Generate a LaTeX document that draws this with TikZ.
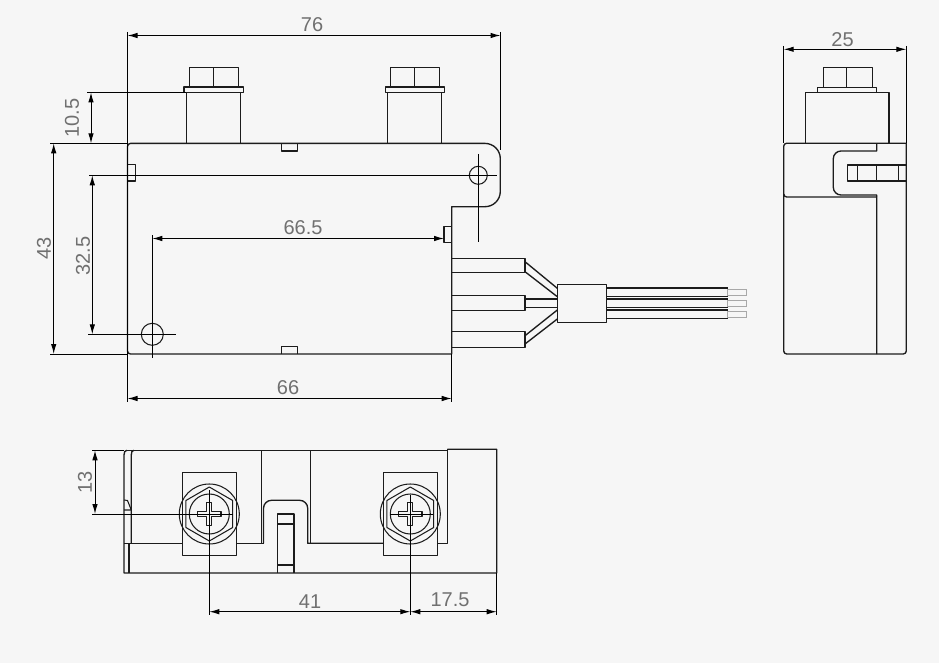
\documentclass[tikz,border=0pt]{standalone}
\usepackage{fontspec}
\setmainfont{Liberation Sans}
\usetikzlibrary{arrows.meta}
\definecolor{bgc}{HTML}{F6F6F6}
\definecolor{txtc}{HTML}{707070}
\definecolor{linec}{HTML}{1C1C1C}
\definecolor{tipc}{HTML}{A8A8A8}
\tikzset{
  part/.style={draw=linec,line width=1.35pt,line join=round},
  thin part/.style={draw=linec,line width=1.05pt,line join=round},
  tiplead/.style={draw=tipc,line width=.9pt},
  aux/.style={draw=black,line width=1pt},
  dimline/.style={draw=black,line width=1pt,{Latex[length=10pt,width=5.5pt]}-{Latex[length=10pt,width=5.5pt]}},
  dimtext/.style={text=txtc,font=\fontsize{20}{20}\selectfont,inner sep=0pt},
}
\newcommand{\screwhead}[1]{%
  \begin{scope}[shift={(#1,514)}]
    \draw[thin part] (0,0) circle (30);
    \draw[thin part] (0,0) circle (20);
    \draw[thin part] (0,-27) -- (23.4,-13.5) -- (23.4,13.5) -- (0,27) -- (-23.4,13.5) -- (-23.4,-13.5) -- cycle;
    \draw[thin part,fill=bgc] (-2.5,-11.7) -- (2.5,-11.7) -- (2.5,-2.5) -- (11.7,-2.5) -- (11.7,2.5) -- (2.5,2.5) -- (2.5,11.7) -- (-2.5,11.7) -- (-2.5,2.5) -- (-11.7,2.5) -- (-11.7,-2.5) -- (-2.5,-2.5) -- cycle;
  \end{scope}}
\begin{document}
\begin{tikzpicture}[x=1pt,y=-1pt]
\useasboundingbox[fill=bgc] (0,0) rectangle (939,663);

% ---------- top view: terminals
\draw[part] (186.5,143.4) -- (186.5,92.4) -- (240.5,92.4) -- (240.5,143.4);
\draw[thin part] (184,92.4) rectangle (243.3,87);
\draw[thin part] (189.7,87) rectangle (238.7,67.3);
\draw[thin part] (213.3,87) -- (213.3,67.3);
\draw[part] (387.3,143.4) -- (387.3,92.4) -- (441.3,92.4) -- (441.3,143.4);
\draw[thin part] (385.3,92.4) rectangle (444.7,87);
\draw[thin part] (390.3,87) rectangle (439.7,67.3);
\draw[thin part] (414.3,87) -- (414.3,67.3);

% ---------- top view: body
\draw[part] (130.5,143.4) -- (485,143.4) arc[start angle=-90,end angle=0,radius=15.3] -- (500.3,191.4) arc[start angle=0,end angle=90,radius=15.3] -- (451.7,206.7) -- (451.7,354) -- (130.5,354) arc[start angle=90,end angle=180,radius=3] -- (127.5,146.4) arc[start angle=180,end angle=270,radius=3] -- cycle;
\draw[part] (281.2,143.4) -- (281.2,151) -- (297.7,151) -- (297.7,143.4);
\draw[part] (281.2,354) -- (281.2,346.7) -- (297.7,346.7) -- (297.7,354);
\draw[part] (127.5,164.7) -- (135.3,164.7) -- (135.3,181) -- (127.5,181);
\draw[part] (451.7,226.7) -- (444,226.7) -- (444,242.7) -- (451.7,242.7);
\draw[thin part] (478.3,175.3) circle (9);
\draw[thin part] (152.3,334.3) circle (11);

% ---------- top view: cable
\draw[part] (451.7,258.7) -- (525,258.7) -- (525,272.3) -- (451.7,272.3);
\draw[part] (451.7,295.7) -- (525,295.7) -- (525,310.7) -- (451.7,310.7);
\draw[part] (451.7,331.3) -- (525,331.3) -- (525,347.3) -- (451.7,347.3);
\draw[part] (557.3,284.3) rectangle (606.7,322.3);
\draw[part] (525,261.7) -- (557.3,288.3);
\draw[part] (525,271.7) -- (557.3,296.7);
\draw[part] (525,299) -- (557.3,299);
\draw[part] (525,307.3) -- (557.3,307.3);
\draw[part] (525,335.7) -- (557.3,310);
\draw[part] (525,344) -- (557.3,319);
\foreach \a in {288,296.3,299,307.3,310,318.3}
  \draw[thin part] (606.7,\a) -- (727.7,\a);
\draw[thin part] (727.7,288) -- (727.7,296.3);
\draw[thin part] (727.7,299) -- (727.7,307.3);
\draw[thin part] (727.7,310) -- (727.7,318.3);
\draw[tiplead] (727.7,289.3) rectangle (746.7,295.7);
\draw[tiplead] (727.7,300.3) rectangle (746.7,306.3);
\draw[tiplead] (727.7,311.3) rectangle (746.7,317.3);

% ---------- top view: dimensions
\draw[aux] (127.5,32) -- (127.5,402);
\draw[aux] (500.5,32) -- (500.5,150);
\draw[aux] (451.7,354) -- (451.7,402);
\draw[aux] (87,92.4) -- (186,92.4);
\draw[aux] (50,143.4) -- (127,143.4);
\draw[aux] (50,354) -- (127,354);
\draw[aux] (89,175.3) -- (496.7,175.3);
\draw[aux] (88,334.3) -- (175.7,334.3);
\draw[aux] (478.3,154) -- (478.3,241.7);
\draw[aux] (152.3,235) -- (152.3,358.3);
\draw[dimline] (127.5,35.5) -- (500.5,35.5);
\draw[dimline] (91,92.4) -- (91,143.4);
\draw[dimline] (53.7,143.4) -- (53.7,354);
\draw[dimline] (92.3,175.3) -- (92.3,334.3);
\draw[dimline] (152.3,238.5) -- (444,238.5);
\draw[dimline] (127.5,398.5) -- (451.7,398.5);
\node[dimtext] (d76) at (312,25) {76};
\node[dimtext,rotate=90] (d105) at (72,118) {10.5};
\node[dimtext,rotate=90] (d43) at (44,248) {43};
\node[dimtext,rotate=90] (d325) at (83,256) {32.5};
\node[dimtext] (d665) at (303,228) {66.5};
\node[dimtext] (d66) at (288,388) {66};

% ---------- side view
\draw[thin part] (823.3,87.7) rectangle (872.7,67.3);
\draw[thin part] (846.3,87.7) -- (846.3,67.3);
\draw[thin part] (817.3,92.3) rectangle (876.7,87.7);
\draw[part] (805.7,143.2) -- (805.7,92.3) -- (889,92.3) -- (889,143.2);
\draw[part] (786.7,143.2) -- (906.3,143.2) -- (906.3,351) arc[start angle=0,end angle=90,radius=3] -- (786.7,354) arc[start angle=90,end angle=180,radius=3] -- (783.7,146.2) arc[start angle=180,end angle=270,radius=3];
\draw[part] (783.7,194) arc[start angle=180,end angle=90,radius=3] -- (876.7,197) -- (876.7,354);
\draw[part] (876.7,143.2) -- (876.7,151) -- (841,151) arc[start angle=-90,end angle=-180,radius=7.7] -- (833.3,187.3) arc[start angle=180,end angle=90,radius=7.7] -- (876.7,195) -- (876.7,197);
\draw[part] (906.3,165) -- (847.3,165) -- (847.3,181) -- (906.3,181);
\draw[thin part] (857.3,165) -- (857.3,181);
\draw[thin part] (876.7,165) -- (876.7,181);
\draw[thin part] (898.7,165) -- (898.7,181);
\draw[aux] (783.7,46) -- (783.7,143);
\draw[aux] (906.3,46) -- (906.3,143);
\draw[dimline] (783.7,49.3) -- (906.3,49.3);
\node[dimtext] (d25) at (842.5,40) {25};

% ---------- bottom view: outline
\draw[part] (127,450.3) -- (447.3,450.3);
\draw[part] (447.3,449.3) -- (496.7,449.3) -- (496.7,573) -- (124,573) -- (124,455) .. controls (124,452) and (125,450.3) .. (127,450.3);
\draw[part] (131.3,543.3) -- (131.3,455) .. controls (131.3,452) and (132,450.3) .. (134,450.3);
\draw[part] (129,543.3) -- (129,573);
\draw[thin part] (124,510) -- (131.3,510) -- (127.5,500.5) -- (124,500);
\draw[part] (124,543.3) -- (182.3,543.3);
\draw[part] (236.7,543.3) -- (263.5,543.3);
\draw[part] (261.7,543.3) -- (261.7,450.3);
\draw[part] (263.5,543.3) -- (263.5,508.3) arc[start angle=180,end angle=270,radius=8] -- (299.7,500.3) arc[start angle=-90,end angle=0,radius=8] -- (307.7,543.3) -- (383.3,543.3);
\draw[part] (310.7,450.3) -- (310.7,543.3);
\draw[part] (437.7,543.3) -- (447.3,543.3) -- (447.3,449.3);
\draw[part] (277.7,573) -- (277.7,514) -- (294,514) -- (294,573);
\draw[thin part] (277.7,524) -- (294,524);
\draw[thin part] (277.7,565) -- (294,565);
\draw[part] (182.3,472.3) rectangle (236.7,555.7);
\draw[part] (383.3,472.3) rectangle (437.7,555.7);
\screwhead{209.3}
\screwhead{410.3}

% ---------- bottom view: dimensions
\draw[aux] (92,450.3) -- (124,450.3);
\draw[aux] (92,514) -- (233,514);
\draw[aux] (390,514) -- (433,514);
\draw[aux] (209.3,490) -- (209.3,615);
\draw[aux] (410.3,495) -- (410.3,615);
\draw[aux] (496.7,573) -- (496.7,615);
\draw[dimline] (95,450.3) -- (95,514);
\draw[dimline] (209.3,611.7) -- (410.3,611.7);
\draw[dimline] (410.3,611.7) -- (496.7,611.7);
\node[dimtext,rotate=90] (d13) at (85,482) {13};
\node[dimtext] (d41) at (310,602) {41};
\node[dimtext] (d175) at (450,600) {17.5};
\end{tikzpicture}
\end{document}
